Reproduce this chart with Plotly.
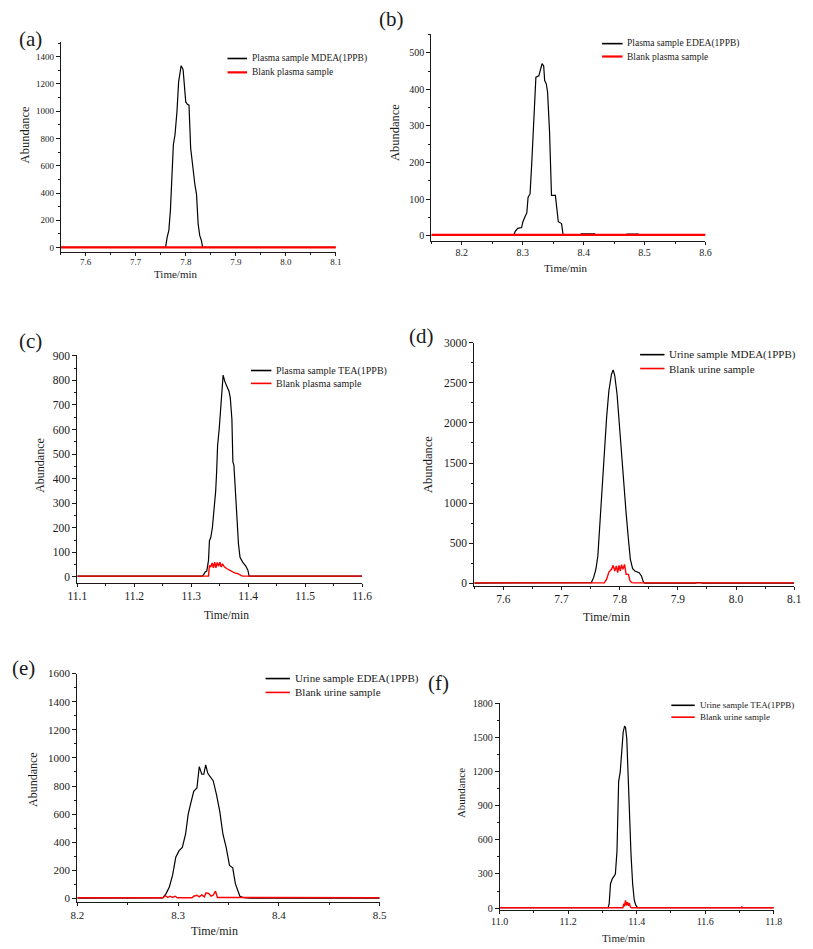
import plotly.graph_objects as go

W, H = 813, 949

# ---------------- data ----------------
# (a) plasma MDEA
a_time_black = [7.55, 7.735, 7.737, 7.745, 7.747, 7.7596, 7.7629, 7.7662, 7.7693, 7.772, 7.7752, 7.7785,
                7.7824, 7.7857, 7.7889, 7.7908, 7.7947, 7.7974, 7.8, 7.8033, 7.8065, 7.8098, 7.8143,
                7.8182, 7.8215, 7.8248, 7.8279, 7.8312, 7.8338, 8.1]
a_abund_black = [1, 1, 6, 6, 1, 2, 77, 126, 271, 464, 754, 827, 996, 1213, 1298, 1334, 1305, 1189, 1068,
                 1051, 1044, 730, 560, 464, 392, 174, 89, 53, 2, 1]
a_time_red = [7.55, 7.7, 7.8, 7.9, 8.0, 8.1]
a_abund_red = [2, 2, 2, 2, 2, 2]

# (b) plasma EDEA
b_time_black = [8.15, 8.2853, 8.2875, 8.2917, 8.2981, 8.3003, 8.3035, 8.3067, 8.3088, 8.312, 8.3147,
                8.3184, 8.3216, 8.3264, 8.3291, 8.3317, 8.3344, 8.336, 8.3387, 8.3408, 8.344, 8.3472,
                8.3536, 8.3584, 8.3637, 8.3664, 8.395, 8.396, 8.418, 8.42, 8.47, 8.471, 8.49, 8.492,
                8.55, 8.552, 8.556, 8.558, 8.6]
b_abund_black = [1, 1, 11, 20, 22, 38, 51, 62, 105, 114, 195, 329, 433, 437, 451, 470, 464, 424, 415,
                 392, 285, 110, 110, 38, 33, 1, 1, 5, 5, 1, 1, 4, 4, 1, 1, 3, 3, 1, 1]
b_time_red = [8.15, 8.3, 8.4, 8.5, 8.6]
b_abund_red = [2, 2, 2, 2, 2]

# (c) plasma TEA
c_time_black = [11.1, 11.3189, 11.3217, 11.3246, 11.3274, 11.3303, 11.332, 11.3343, 11.3371, 11.34,
                11.3429, 11.3446, 11.3463, 11.3491, 11.3514, 11.3537, 11.356, 11.3589, 11.3629,
                11.3663, 11.3686, 11.3714, 11.3731, 11.3749, 11.3771, 11.38, 11.3829, 11.3857,
                11.3903, 11.396, 11.3994, 11.4017, 11.6]
c_abund_black = [3, 3, 9, 20, 24, 67, 147, 160, 200, 267, 348, 428, 535, 602, 669, 762, 822, 796, 776,
                 756, 729, 642, 468, 455, 368, 241, 134, 80, 60, 43, 27, 3, 3]
c_time_red = [11.1, 11.3303, 11.332, 11.3343, 11.3366, 11.3389, 11.3411, 11.3434, 11.3457, 11.348,
              11.3503, 11.3526, 11.3549, 11.3583, 11.3629, 11.3674, 11.372, 11.376, 11.3817, 11.3874,
              11.39, 11.6]
c_abund_red = [3, 3, 47, 40, 57, 37, 60, 37, 59, 43, 60, 40, 53, 40, 33, 27, 20, 16, 13, 4, 3, 3]

# (d) urine MDEA
d_time_black = [7.55, 7.665, 7.667, 7.685, 7.687, 7.7512, 7.7551, 7.759, 7.7624, 7.7652, 7.7691,
                7.7736, 7.7775, 7.7814, 7.7859, 7.7887, 7.7915, 7.7954, 7.7987, 7.8027, 7.8066,
                7.811, 7.815, 7.8183, 7.8222, 7.8261, 7.8334, 7.8373, 7.8407, 7.8429, 7.93, 7.932,
                7.94, 7.942, 8.1]
d_abund_black = [2, 2, 10, 10, 2, 8, 70, 173, 338, 669, 1164, 1659, 2072, 2402, 2608, 2662, 2588,
                 2361, 2030, 1618, 1246, 875, 545, 297, 182, 153, 132, 91, 17, 2, 2, 8, 8, 2, 2]
d_time_red = [7.55, 7.7736, 7.7775, 7.7814, 7.7859, 7.7887, 7.7915, 7.7942, 7.7965, 7.7987, 7.801,
              7.8032, 7.8055, 7.8083, 7.811, 7.815, 7.8177, 7.8211, 7.825, 8.1]
d_abund_red = [5, 5, 50, 140, 173, 223, 153, 215, 132, 223, 153, 231, 173, 235, 111, 111, 29, 8, 5, 5]

# (e) urine EDEA
e_time_black = [8.2, 8.2848, 8.2881, 8.2913, 8.2945, 8.2977, 8.301, 8.3042, 8.3074, 8.31, 8.3123,
                8.3155, 8.3187, 8.321, 8.3235, 8.3255, 8.3274, 8.3294, 8.3316, 8.3348, 8.3381,
                8.3413, 8.3445, 8.3477, 8.351, 8.3542, 8.3568, 8.359, 8.3613, 8.3655, 8.372, 8.5]
e_abund_black = [3, 5, 35, 82, 164, 293, 340, 364, 457, 598, 669, 762, 786, 938, 884, 884, 950, 892,
                 868, 838, 739, 622, 457, 364, 235, 218, 106, 59, 16, 5, 2, 2]
e_time_red = [8.2, 8.285, 8.2874, 8.2897, 8.2919, 8.2945, 8.2971, 8.2994, 8.3139, 8.3155, 8.3187,
              8.321, 8.3235, 8.3261, 8.3277, 8.3306, 8.3326, 8.3348, 8.3371, 8.339, 8.5]
e_abund_red = [5, 5, 19, 7, 16, 7, 16, 5, 5, 16, 23, 12, 26, 12, 40, 35, 16, 23, 52, 7, 5]

# (f) urine TEA
f_time_black = [11.0, 11.3168, 11.3197, 11.3235, 11.3283, 11.334, 11.3378, 11.3425, 11.3473, 11.352,
                11.3568, 11.3606, 11.3644, 11.3673, 11.3711, 11.3758, 11.3796, 11.3834, 11.3882,
                11.393, 11.3977, 11.4025, 11.8]
f_abund_black = [3, 3, 38, 212, 255, 276, 299, 502, 1112, 1199, 1373, 1548, 1597, 1591, 1489, 1054,
                 735, 473, 212, 67, 23, 3, 3]
f_time_red = [11.0, 11.3597, 11.3625, 11.3644, 11.3673, 11.3701, 11.373, 11.3758, 11.3787, 11.3815,
              11.385, 11.705, 11.707, 11.709, 11.8]
f_abund_red = [3, 3, 38, 15, 67, 23, 52, 20, 44, 9, 3, 3, 10, 3, 3]

panel_labels = ["(a)", "(b)", "(c)", "(d)", "(e)", "(f)"]
legend_black = ["Plasma sample MDEA(1PPB)", "Plasma sample EDEA(1PPB)", "Plasma sample TEA(1PPB)",
                "Urine sample MDEA(1PPB)", "Urine sample EDEA(1PPB)", "Urine sample TEA(1PPB)"]
legend_red = ["Blank plasma sample", "Blank plasma sample", "Blank plasma sample",
              "Blank urine sample", "Blank urine sample", "Blank urine sample"]
x_title = "Time/min"
y_title = "Abundance"

# ---------------- layout spec (pixels) ----------------
FONT = "Liberation Serif, Times New Roman, serif"
INK = "#1a1a1a"

specs = [
    dict(t=(a_time_black, a_abund_black, a_time_red, a_abund_red), x=(52, 334), y=(36, 248),
         xr=[7.55, 8.1], yr=[-30, 1510], xdt=0.1, ydt=200, tfs=9, lfs=9.5, afs=12.5, xfs=11,
         rw=2.2, lab=(21, 33), leg=(223, 243, 53, 67), ytit=(15, 130), xtit=(170, 271)),
    dict(t=(b_time_black, b_abund_black, b_time_red, b_abund_red), x=(432, 713), y=(28, 237),
         xr=[8.15, 8.6], yr=[-14, 552], xdt=0.1, ydt=100, tfs=10, lfs=9.5, afs=12.5, xfs=11,
         rw=2.2, lab=(391, 13), leg=(607, 628, 38, 51), ytit=(395, 128), xtit=(570, 265)),
    dict(t=(c_time_black, c_abund_black, c_time_red, c_abund_red), x=(69, 361), y=(352, 583),
         xr=[11.1, 11.6], yr=[-27, 905], xdt=0.1, ydt=100, tfs=11.5, lfs=10, afs=12, xfs=11.5,
         rw=1.4, lab=(21, 338), leg=(247, 268, 368, 381), ytit=(30, 464), xtit=(222, 615)),
    dict(t=(d_time_black, d_abund_black, d_time_red, d_abund_red), x=(476, 804), y=(340, 586),
         xr=[7.55, 8.1], yr=[-40, 3000], xdt=0.1, ydt=500, tfs=11.5, lfs=11, afs=12.5, xfs=12,
         rw=1.4, lab=(422, 333), leg=(646, 671, 352, 366), ytit=(428, 463), xtit=(612, 617)),
    dict(t=(e_time_black, e_abund_black, e_time_red, e_abund_red), x=(69, 379), y=(674, 905),
         xr=[8.2, 8.5], yr=[-28, 1600], xdt=0.1, ydt=200, tfs=11, lfs=11, afs=12, xfs=12,
         rw=1.4, lab=(14, 668), leg=(262, 287, 679, 693), ytit=(23, 781), xtit=(210, 934)),
    dict(t=(f_time_black, f_abund_black, f_time_red, f_abund_red), x=(502, 783), y=(704, 913),
         xr=[11.0, 11.8], yr=[-20, 1800], xdt=0.2, ydt=300, tfs=10, lfs=9, afs=11, xfs=11,
         rw=1.4, lab=(439, 683), leg=(678, 702, 706, 718), ytit=(463, 795), xtit=(629, 941)),
]


def fx(p):
    return p / W


def fy(p):
    return 1 - p / H


fig = go.Figure()
layout = dict(width=W, height=H, margin=dict(l=0, r=0, t=0, b=0), showlegend=False,
              paper_bgcolor="white", plot_bgcolor="white",
              font=dict(family=FONT, color=INK))
shapes, annotations = [], []

for i, s in enumerate(specs):
    n = "" if i == 0 else str(i + 1)
    tb, vb, tr, vr = s["t"]
    fig.add_trace(go.Scatter(x=tb, y=vb, mode="lines", line=dict(color="black", width=1.2),
                             xaxis="x" + n, yaxis="y" + n, hoverinfo="skip"))
    fig.add_trace(go.Scatter(x=tr, y=vr, mode="lines", line=dict(color="#ff0000", width=s["rw"]),
                             xaxis="x" + n, yaxis="y" + n, hoverinfo="skip"))
    tickfont = dict(family=FONT, size=s["tfs"], color=INK)
    layout["xaxis" + n] = dict(
        domain=[fx(s["x"][0]), fx(s["x"][1])], range=s["xr"], anchor="y" + n,
        showline=True, linecolor=INK, linewidth=1, ticks="outside", ticklen=3, tickwidth=1,
        tickcolor=INK, tick0=0, dtick=s["xdt"], tickformat=".1f", showgrid=False, zeroline=False,
        tickfont=tickfont, ticklabelstandoff=-1,
        minor=dict(ticks="outside", ticklen=2, tickwidth=1, tickcolor=INK, dtick=s["xdt"] / 2,
                   showgrid=False))
    layout["yaxis" + n] = dict(
        domain=[fy(s["y"][1]), fy(s["y"][0])], range=s["yr"], anchor="x" + n,
        showline=True, linecolor=INK, linewidth=1, ticks="outside", ticklen=4, tickwidth=1,
        tickcolor=INK, tick0=0, dtick=s["ydt"], tickformat="d", showgrid=False, zeroline=False,
        tickfont=tickfont,
        minor=dict(ticks="outside", ticklen=2, tickwidth=1, tickcolor=INK, dtick=s["ydt"] / 2,
                   showgrid=False))

    # panel label
    annotations.append(dict(text=panel_labels[i], x=fx(s["lab"][0]), y=fy(s["lab"][1]),
                            xref="paper", yref="paper", showarrow=False, xanchor="center",
                            yanchor="middle", font=dict(family=FONT, size=21, color=INK)))
    # axis titles
    annotations.append(dict(text=x_title, x=fx(s["xtit"][0]), y=fy(s["xtit"][1]), xref="paper",
                            yref="paper", showarrow=False, xanchor="center", yanchor="middle",
                            font=dict(family=FONT, size=s["xfs"], color=INK)))
    annotations.append(dict(text=y_title, x=fx(s["ytit"][0]), y=fy(s["ytit"][1]), xref="paper",
                            yref="paper", showarrow=False, xanchor="center", yanchor="middle",
                            textangle=-90, font=dict(family=FONT, size=s["afs"], color=INK)))
    # legend
    lx0, lx1, ly0, ly1 = s["leg"]
    for (yy, col, wdt, txt) in [(ly0, "black", 1.6, legend_black[i]),
                                (ly1, "#ff0000", max(1.6, s["rw"]), legend_red[i])]:
        shapes.append(dict(type="line", xref="paper", yref="paper", x0=fx(lx0), x1=fx(lx1),
                           y0=fy(yy), y1=fy(yy), line=dict(color=col, width=wdt)))
        annotations.append(dict(text=txt, x=fx(lx1 + 3), y=fy(yy), xref="paper", yref="paper",
                                showarrow=False, xanchor="left", yanchor="middle",
                                font=dict(family=FONT, size=s["lfs"], color=INK)))

layout["shapes"] = shapes
layout["annotations"] = annotations
fig.update_layout(**layout)
fig.write_html("out.html",
               config={"displayModeBar": False, "staticPlot": True},
               post_script="document.body.style.margin='0px';document.body.style.padding='0px';")
